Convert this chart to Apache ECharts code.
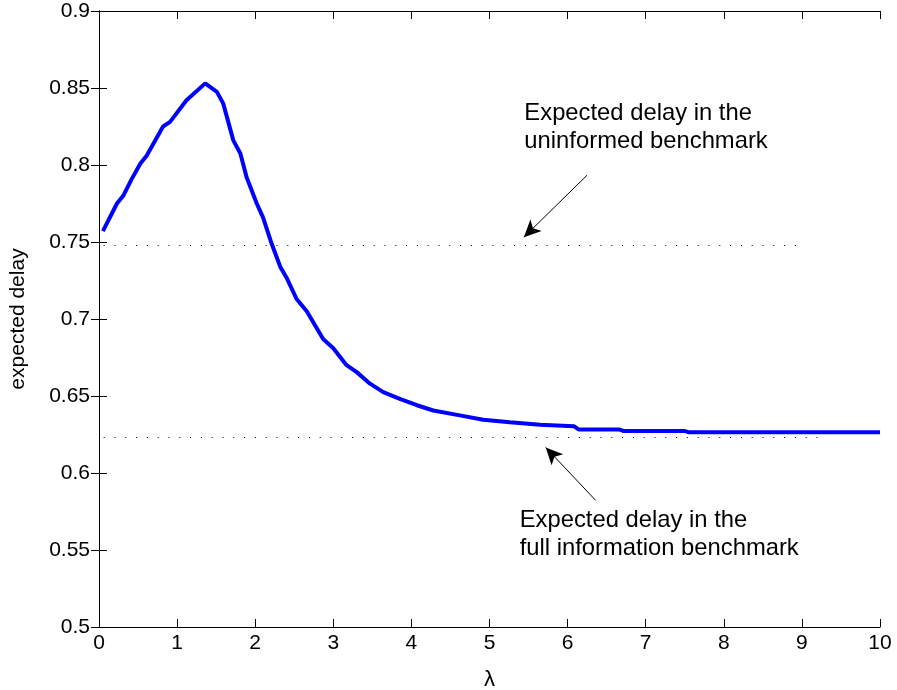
<!DOCTYPE html>
<html>
<head>
<meta charset="utf-8">
<script src="https://cdn.jsdelivr.net/npm/echarts@6/dist/echarts.min.js"></script>
<style>
  html, body { margin: 0; padding: 0; background: #fff; }
  #chart { width: 897px; height: 690px; }
</style>
</head>
<body>
<div id="chart"></div>
<script>
// curve: lambda -> expected delay
const lambdas = [0.05, 0.23, 0.31, 0.42, 0.53, 0.61, 0.82, 0.91, 1.12, 1.36, 1.51, 1.59, 1.72, 1.81, 1.89, 2.02, 2.10, 2.21, 2.32, 2.40, 2.53, 2.66, 2.87, 3.00, 3.17, 3.30, 3.47, 3.64, 3.86, 4.07, 4.28, 4.62, 4.92, 5.26, 5.65, 6.08, 6.14, 6.66, 6.72, 7.50, 7.56, 10.0]
const delays = [0.757, 0.775, 0.780, 0.791, 0.801, 0.806, 0.825, 0.828, 0.842, 0.853, 0.8475, 0.840, 0.816, 0.8075, 0.792, 0.775, 0.766, 0.749, 0.734, 0.727, 0.713, 0.705, 0.687, 0.681, 0.670, 0.6655, 0.658, 0.6525, 0.648, 0.644, 0.6406, 0.6374, 0.6346, 0.633, 0.6313, 0.6304, 0.6283, 0.6283, 0.6272, 0.6272, 0.6264, 0.6264]

// benchmark levels and how far their dotted lines run
const benchmarkLevels = [0.748, 0.623]
const benchmarkEnds = [9.0, 9.2]

// annotation texts, their anchors and arrows (data coords)
const noteTexts = ['Expected delay in the\nuninformed benchmark', 'Expected delay in the\nfull information benchmark']
const noteAnchors = [[5.44, 0.8243], [5.38, 0.5604]]
const arrowFrom = [[6.25, 0.7934], [6.36, 0.5822]]
const arrowTo = [[5.44, 0.7531], [5.72, 0.6166]]

const xTicks = { min: 0, max: 10, interval: 1 }
const yTicks = { min: 0.5, max: 0.9, interval: 0.05 }

const FONT = "'Liberation Sans', Arial, Helvetica, sans-serif"
const chart = echarts.init(document.getElementById('chart'), null, { renderer: 'canvas' })

const fmtY = v => String(+v.toFixed(2))
const boxAxis = { lineStyle: { color: '#000', width: 1 } }
const tick = { show: true, inside: true, length: 8, lineStyle: { color: '#000', width: 1 } }

chart.setOption({
  animation: false,
  grid: { left: 99, right: 17, top: 11, bottom: 63, containLabel: false, outerBoundsMode: 'none' },
  xAxis: [
    {
      type: 'value', ...xTicks, position: 'bottom',
      name: 'λ', nameLocation: 'middle', nameGap: 42,
      nameTextStyle: { fontFamily: FONT, fontSize: 22, color: '#000', verticalAlign: 'top' },
      axisLine: { show: true, ...boxAxis }, axisTick: tick,
      axisLabel: { fontFamily: FONT, fontSize: 21, color: '#000', margin: 6 },
      splitLine: { show: false },
    },
    {
      type: 'value', ...xTicks, position: 'top',
      axisLine: { show: true, ...boxAxis }, axisTick: tick,
      axisLabel: { show: false }, splitLine: { show: false },
    },
  ],
  yAxis: [
    {
      type: 'value', ...yTicks, position: 'left',
      name: 'expected delay', nameLocation: 'middle', nameGap: 70,
      nameTextStyle: { fontFamily: FONT, fontSize: 21, color: '#000' },
      axisLine: { show: true, ...boxAxis }, axisTick: tick,
      axisLabel: { fontFamily: FONT, fontSize: 21, color: '#000', margin: 9, formatter: fmtY },
      splitLine: { show: false },
    },
    {
      type: 'value', ...yTicks, position: 'right',
      axisLine: { show: true, ...boxAxis }, axisTick: tick,
      axisLabel: { show: false }, splitLine: { show: false },
    },
  ],
  series: [
    {
      type: 'line',
      data: lambdas.map((x, i) => [x, delays[i]]),
      showSymbol: false,
      lineStyle: { color: '#0000ff', width: 4 },
      itemStyle: { color: '#0000ff' },
      z: 3,
    },
    {
      type: 'line',
      data: [],
      silent: true,
      markLine: {
        silent: true,
        animation: false,
        label: { show: false },
        emphasis: { disabled: true },
        data: [
          ...benchmarkLevels.map((v, i) => [
            { coord: [0.06, v], symbol: 'none', lineStyle: { color: '#000', width: 1, type: [1, 9.8] } },
            { coord: [benchmarkEnds[i], v], symbol: 'none' },
          ]),
          ...arrowFrom.map((p, i) => [
            { coord: p, symbol: 'none', lineStyle: { color: '#000', width: 1, type: 'solid' } },
            { coord: arrowTo[i], symbol: 'arrow', symbolSize: [12, 17] },
          ]),
        ],
      },
      markPoint: {
        silent: true,
        animation: false,
        symbol: 'circle',
        symbolSize: 1,
        itemStyle: { color: 'rgba(0,0,0,0)' },
        label: {
          show: true, position: 'right', distance: 0,
          fontFamily: FONT, fontSize: 23.8, lineHeight: 28, color: '#000', align: 'left',
          formatter: p => p.name,
        },
        data: noteTexts.map((t, i) => ({ name: t, coord: noteAnchors[i] })),
      },
    },
  ],
})
</script>
</body>
</html>
